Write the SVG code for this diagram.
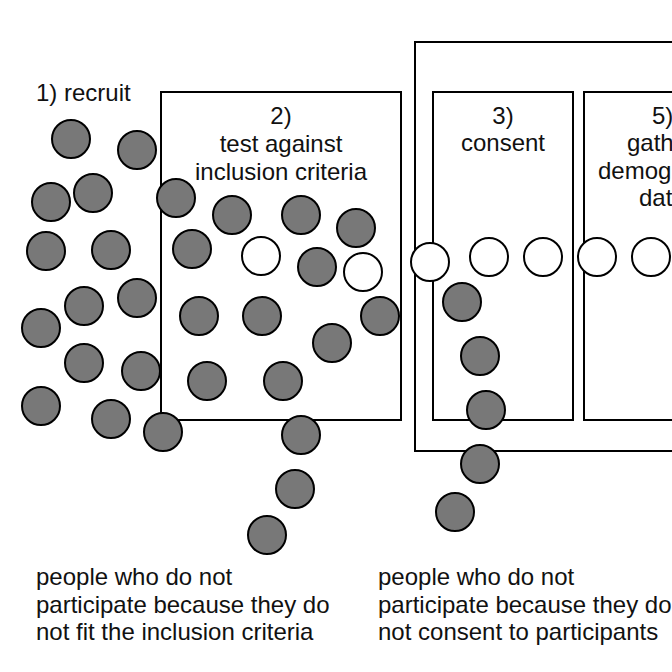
<svg xmlns="http://www.w3.org/2000/svg" width="672" height="672" viewBox="0 0 672 672">
  <style>
    .box { fill: none; stroke: #000; stroke-width: 2; }
    .lbl { font-family: "Liberation Sans", Arial, Helvetica, sans-serif; font-size: 24px; fill: #111; }
    .mid { text-anchor: middle; }
    .out { fill: #787878; stroke: #000; stroke-width: 2; }
    .in { fill: #fff; stroke: #000; stroke-width: 2; }
  </style>
  <defs>
    <circle id="p" r="19"/>
  </defs>
  <rect width="672" height="672" fill="#fff"/>

  <!-- stage boxes -->
  <g id="recruit">
    <text class="lbl" x="36" y="101">1) recruit</text>
  </g>
  <g id="study">
    <rect class="box" x="415" y="42" width="320" height="409"/>
  </g>
  <g id="inclusion">
    <rect class="box" x="161" y="92" width="240" height="328"/>
    <text class="lbl mid" x="281" y="124">2)</text>
    <text class="lbl mid" x="281" y="152">test against</text>
    <text class="lbl mid" x="281" y="180">inclusion criteria</text>
  </g>
  <g id="consent">
    <rect class="box" x="433" y="92" width="140" height="328"/>
    <text class="lbl mid" x="503" y="124">3)</text>
    <text class="lbl mid" x="503" y="151">consent</text>
  </g>
  <g id="demographics">
    <rect class="box" x="584" y="92" width="140" height="328"/>
    <text class="lbl" x="652" y="124">5)</text>
    <text class="lbl" x="627" y="151">gather</text>
    <text class="lbl" x="598" y="179">demographic</text>
    <text class="lbl" x="639" y="206">data</text>
  </g>

  <!-- people who drop out (grey) -->
  <g id="excluded">
    <use href="#p" class="out" x="71" y="139"/>
    <use href="#p" class="out" x="137" y="150"/>
    <use href="#p" class="out" x="51" y="202"/>
    <use href="#p" class="out" x="93" y="193"/>
    <use href="#p" class="out" x="176" y="198"/>
    <use href="#p" class="out" x="46" y="251"/>
    <use href="#p" class="out" x="111" y="250"/>
    <use href="#p" class="out" x="84" y="306"/>
    <use href="#p" class="out" x="137" y="298"/>
    <use href="#p" class="out" x="41" y="328"/>
    <use href="#p" class="out" x="84" y="363"/>
    <use href="#p" class="out" x="141" y="371"/>
    <use href="#p" class="out" x="41" y="406"/>
    <use href="#p" class="out" x="111" y="419"/>
    <use href="#p" class="out" x="163" y="432"/>
    <use href="#p" class="out" x="232" y="215"/>
    <use href="#p" class="out" x="301" y="215"/>
    <use href="#p" class="out" x="356" y="228"/>
    <use href="#p" class="out" x="192" y="249"/>
    <use href="#p" class="out" x="317" y="267"/>
    <use href="#p" class="out" x="199" y="316"/>
    <use href="#p" class="out" x="262" y="316"/>
    <use href="#p" class="out" x="380" y="316"/>
    <use href="#p" class="out" x="332" y="343"/>
    <use href="#p" class="out" x="207" y="381"/>
    <use href="#p" class="out" x="283" y="381"/>
    <use href="#p" class="out" x="301" y="435"/>
    <use href="#p" class="out" x="295" y="489"/>
    <use href="#p" class="out" x="267" y="535"/>
    <use href="#p" class="out" x="462" y="302"/>
    <use href="#p" class="out" x="480" y="356"/>
    <use href="#p" class="out" x="486" y="410"/>
    <use href="#p" class="out" x="480" y="464"/>
    <use href="#p" class="out" x="455" y="512"/>
  </g>

  <!-- participants who continue (white) -->
  <g id="participants">
    <use href="#p" class="in" x="261" y="256"/>
    <use href="#p" class="in" x="363" y="272"/>
    <use href="#p" class="in" x="430" y="262"/>
    <use href="#p" class="in" x="489" y="257"/>
    <use href="#p" class="in" x="543" y="257"/>
    <use href="#p" class="in" x="597" y="257"/>
    <use href="#p" class="in" x="651" y="257"/>
  </g>

  <!-- drop-out notes -->
  <g id="note-inclusion">
    <text class="lbl" x="36" y="585">people who do not</text>
    <text class="lbl" x="36" y="613">participate because they do</text>
    <text class="lbl" x="36" y="640">not fit the inclusion criteria</text>
  </g>
  <g id="note-consent">
    <text class="lbl" x="378" y="585">people who do not</text>
    <text class="lbl" x="378" y="613">participate because they do</text>
    <text class="lbl" x="378" y="640">not consent to participants</text>
  </g>
</svg>
